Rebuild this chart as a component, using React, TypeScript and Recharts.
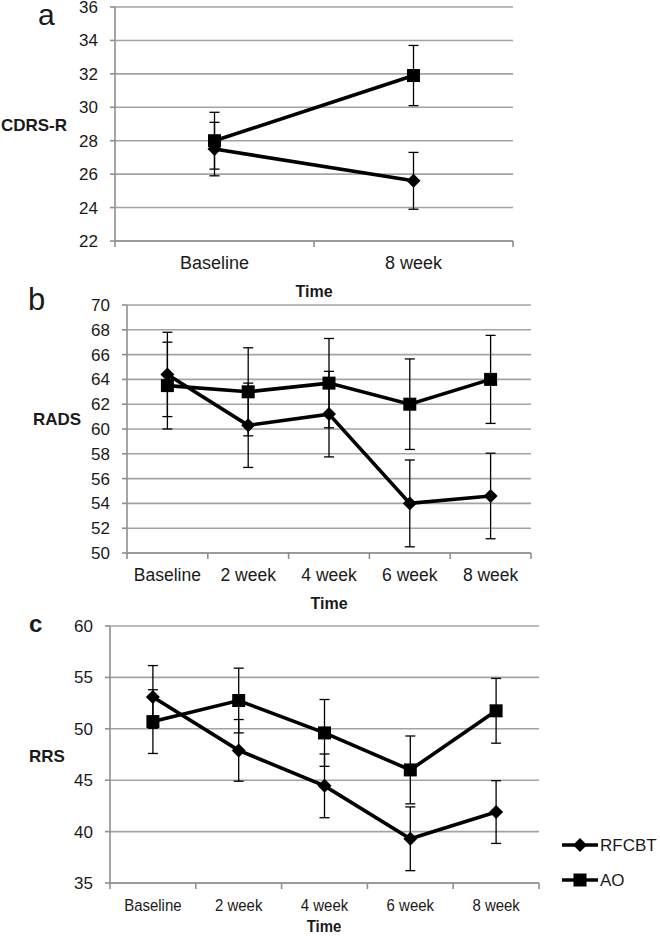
import { CartesianGrid, ErrorBar, Line, LineChart, XAxis, YAxis } from "recharts";

const FONT = "'Liberation Sans', Arial, sans-serif";
const GRID = "#a3a3a3";
const AXIS = "#8f8f8f";
const INK = "#1a1a1a";

// panel a: CDRS-R
const timesA = ["Baseline", "8 week"];
const rfcbtA = [27.5, 25.6];
const rfcbtAErr = [1.6, 1.7];
const aoA = [28.0, 31.9];
const aoAErr = [1.7, 1.8];
const ticksA = [22, 24, 26, 28, 30, 32, 34, 36];

// panel b: RADS
const timesB = ["Baseline", "2 week", "4 week", "6 week", "8 week"];
const rfcbtB = [64.4, 60.3, 61.2, 54.0, 54.6];
const rfcbtBErr = [3.4, 3.4, 3.45, 3.5, 3.45];
const aoB = [63.5, 63.0, 63.7, 62.0, 64.0];
const aoBErr = [3.5, 3.55, 3.6, 3.65, 3.55];
const ticksB = [50, 52, 54, 56, 58, 60, 62, 64, 66, 68, 70];

// panel c: RRS
const timesC = ["Baseline", "2 week", "4 week", "6 week", "8 week"];
const rfcbtC = [53.1, 47.9, 44.45, 39.3, 41.9];
const rfcbtCErr = [3.05, 3.0, 3.1, 3.1, 3.05];
const aoC = [50.7, 52.75, 49.6, 46.0, 51.75];
const aoCErr = [3.1, 3.15, 3.25, 3.3, 3.15];
const ticksC = [35, 40, 45, 50, 55, 60];

const seriesNames = ["RFCBT", "AO"];

type Row = { x: number; rfcbt: number; rfcbtErr: number; ao: number; aoErr: number };

function buildRows(times: string[], r: number[], rErr: number[], a: number[], aErr: number[]): Row[] {
  return times.map((_, i) => ({ x: i + 0.5, rfcbt: r[i], rfcbtErr: rErr[i], ao: a[i], aoErr: aErr[i] }));
}

function Diamond(props: any) {
  const { cx, cy, index } = props;
  if (cx == null || cy == null) return <g key={`d-${index}`} />;
  const s = 7;
  return (
    <polygon
      key={`d-${index}`}
      points={`${cx},${cy - s} ${cx + s},${cy} ${cx},${cy + s} ${cx - s},${cy}`}
      fill="#000"
    />
  );
}

function Square(props: any) {
  const { cx, cy, index } = props;
  if (cx == null || cy == null) return <g key={`s-${index}`} />;
  const s = 6.5;
  return <rect key={`s-${index}`} x={cx - s} y={cy - s} width={s * 2} height={s * 2} fill="#000" />;
}

function makeXTick(labels: string[], half: number, fontSize: number, squeeze: number) {
  return (props: any) => {
    const { x, y, payload } = props;
    const i = payload.value;
    if (i >= labels.length) return <g />;
    return (
      <text
        transform={`translate(${x + half},${y + 20}) scale(${squeeze},1)`}
        textAnchor="middle"
        fontFamily={FONT}
        fontSize={fontSize}
        fill={INK}
      >
        {labels[i]}
      </text>
    );
  };
}

type PanelProps = {
  times: string[];
  rows: Row[];
  ticks: number[];
  plotLeft: number;
  plotRight: number;
  plotTop: number;
  plotBottom: number;
  xFont: number;
  xSqueeze: number;
};

function Panel({ times, rows, ticks, plotLeft, plotRight, plotTop, plotBottom, xFont, xSqueeze }: PanelProps) {
  const yW = 50;
  const xH = 40;
  const padTop = Math.min(10, plotTop);
  const width = 660;
  const height = plotBottom - plotTop + padTop + xH;
  const half = (plotRight - plotLeft) / times.length / 2;
  const xTicks = times.map((_, i) => i).concat(times.length);
  return (
    <div style={{ position: "absolute", left: 0, top: plotTop - padTop }}>
      <LineChart
        width={width}
        height={height}
        data={rows}
        margin={{ top: padTop, right: width - plotRight, bottom: 0, left: plotLeft - yW }}
      >
        <CartesianGrid vertical={false} stroke={GRID} strokeWidth={1.6} />
        <XAxis
          dataKey="x"
          type="number"
          domain={[0, times.length]}
          ticks={xTicks}
          interval={0}
          height={xH}
          tickSize={6}
          tickMargin={2}
          stroke={AXIS}
          strokeWidth={1.6}
          tick={makeXTick(times, half, xFont, xSqueeze)}
        />
        <YAxis
          type="number"
          width={yW}
          domain={[ticks[0], ticks[ticks.length - 1]]}
          ticks={ticks}
          interval={0}
          tickSize={5}
          tickMargin={12}
          stroke={AXIS}
          strokeWidth={1.6}
          tick={{ fill: INK, fontSize: 17, fontFamily: FONT }}
        />
        <Line
          dataKey="rfcbt"
          stroke="#000"
          strokeWidth={3.6}
          dot={Diamond}
          activeDot={false}
          isAnimationActive={false}
        >
          <ErrorBar dataKey="rfcbtErr" direction="y" width={5} stroke="#000" strokeWidth={1.3} isAnimationActive={false} />
        </Line>
        <Line
          dataKey="ao"
          stroke="#000"
          strokeWidth={3.6}
          dot={Square}
          activeDot={false}
          isAnimationActive={false}
        >
          <ErrorBar dataKey="aoErr" direction="y" width={5} stroke="#000" strokeWidth={1.3} isAnimationActive={false} />
        </Line>
      </LineChart>
    </div>
  );
}

export default function App() {
  const rowsA = buildRows(timesA, rfcbtA, rfcbtAErr, aoA, aoAErr);
  const rowsB = buildRows(timesB, rfcbtB, rfcbtBErr, aoB, aoBErr);
  const rowsC = buildRows(timesC, rfcbtC, rfcbtCErr, aoC, aoCErr);

  const bold = { fontFamily: FONT, fontWeight: 700, fill: INK } as const;

  return (
    <div style={{ position: "relative", width: 660, height: 936, background: "#fff" }}>
      <style>{"body{margin:0}"}</style>
      <Panel times={timesA} rows={rowsA} ticks={ticksA} plotLeft={115} plotRight={513} plotTop={7} plotBottom={241} xFont={18} xSqueeze={1} />
      <Panel times={timesB} rows={rowsB} ticks={ticksB} plotLeft={127} plotRight={531} plotTop={305} plotBottom={553} xFont={17.5} xSqueeze={1} />
      <Panel times={timesC} rows={rowsC} ticks={ticksC} plotLeft={110} plotRight={539} plotTop={626} plotBottom={883} xFont={17} xSqueeze={0.88} />

      <svg width={660} height={936} style={{ position: "absolute", left: 0, top: 0, pointerEvents: "none" }}>
        <text x={38} y={25} fontFamily={FONT} fontSize={30} fill={INK}>a</text>
        <text x={28} y={310} fontFamily={FONT} fontSize={31} fill={INK}>b</text>
        <text x={29} y={632} fontSize={24} {...bold}>c</text>

        <text x={34} y={125} fontSize={17} textAnchor="middle" dominantBaseline="central" {...bold}>CDRS-R</text>
        <text x={314} y={291} fontSize={16} textAnchor="middle" dominantBaseline="central" {...bold}>Time</text>

        <text x={57} y={419} fontSize={17} textAnchor="middle" dominantBaseline="central" {...bold}>RADS</text>
        <text x={329} y={603} fontSize={16} textAnchor="middle" dominantBaseline="central" {...bold}>Time</text>

        <text x={47} y={756} fontSize={17} textAnchor="middle" dominantBaseline="central" {...bold}>RRS</text>
        <text
          transform="translate(324,926) scale(0.88,1)"
          fontSize={17}
          textAnchor="middle"
          dominantBaseline="central"
          {...bold}
        >
          Time
        </text>

        {seriesNames.map((name, i) => {
          const y = 845 + i * 35;
          return (
            <g key={name}>
              <line x1={562} x2={598} y1={y} y2={y} stroke="#000" strokeWidth={3.6} />
              {i === 0 ? (
                <polygon points={`580,${y - 7} 587,${y} 580,${y + 7} 573,${y}`} fill="#000" />
              ) : (
                <rect x={573.5} y={y - 6.5} width={13} height={13} fill="#000" />
              )}
              <text x={600} y={y} fontFamily={FONT} fontSize={17} dominantBaseline="central" fill={INK}>
                {name}
              </text>
            </g>
          );
        })}
      </svg>
    </div>
  );
}
